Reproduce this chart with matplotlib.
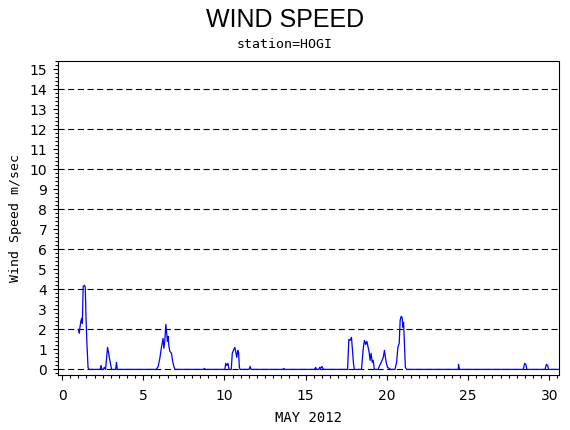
import numpy as np
import matplotlib
matplotlib.use("Agg")
import matplotlib.pyplot as plt
from matplotlib.ticker import MultipleLocator

# hourly wind speed, May 2012, station HOGI
days = [1.00, 1.06, 1.10, 1.16, 1.21, 1.25, 1.30, 1.38, 1.43, 1.47, 1.53, 1.60, 1.65,
        2.35, 2.40, 2.45, 2.55, 2.60, 2.68, 2.72, 2.80, 2.86, 2.92, 2.98, 3.05,
        3.30, 3.35, 3.40,
        5.80, 5.92, 6.02, 6.12, 6.22, 6.27, 6.33, 6.39, 6.44, 6.49, 6.53, 6.58, 6.64, 6.74, 6.80, 6.88, 6.96,
        8.72, 8.76, 8.82,
        10.02, 10.08, 10.14, 10.22, 10.28, 10.42, 10.48, 10.55, 10.64, 10.70, 10.76, 10.82, 10.87, 10.92, 10.96,
        11.52, 11.58, 11.64,
        13.62, 13.65, 13.68,
        15.55, 15.62, 15.68, 15.80, 15.86, 15.92, 16.00, 16.06, 16.12,
        17.58, 17.66, 17.74, 17.82, 17.88, 17.95, 18.00,
        18.44, 18.54, 18.62, 18.70, 18.77, 18.85, 18.91, 18.97, 19.03, 19.10, 19.16, 19.22, 19.26,
        19.46, 19.56, 19.68, 19.78, 19.85, 19.91, 19.96, 20.04, 20.14, 20.22,
        20.50, 20.60, 20.68, 20.76, 20.82, 20.88, 20.94, 20.99, 21.03, 21.08, 21.14, 21.22,
        24.40, 24.41, 24.45, 24.47,
        28.40, 28.48, 28.56, 28.62,
        29.74, 29.82, 29.90, 29.96,
        30.90]
speed = [2.0, 1.8, 2.1, 2.4, 2.55, 2.3, 4.15, 4.2, 4.1, 2.7, 1.3, 0.1, 0.0,
         0.0, 0.2, 0.0, 0.0, 0.1, 0.0, 0.35, 1.1, 0.85, 0.55, 0.3, 0.0,
         0.0, 0.35, 0.0,
         0.0, 0.15, 0.55, 1.1, 1.55, 1.05, 1.45, 2.25, 1.85, 1.4, 1.65, 1.15, 0.9, 0.8, 0.45, 0.15, 0.0,
         0.0, 0.05, 0.0,
         0.0, 0.3, 0.2, 0.3, 0.0, 0.0, 0.8, 0.95, 1.1, 0.85, 0.6, 0.95, 0.85, 0.1, 0.0,
         0.0, 0.15, 0.0,
         0.0, 0.05, 0.0,
         0.0, 0.1, 0.0, 0.0, 0.1, 0.05, 0.15, 0.05, 0.0,
         0.0, 1.5, 1.45, 1.6, 0.95, 0.25, 0.0,
         0.0, 1.0, 1.45, 1.25, 1.4, 1.1, 0.85, 0.45, 0.8, 0.35, 0.45, 0.05, 0.0,
         0.0, 0.2, 0.4, 0.6, 0.95, 0.6, 0.35, 0.1, 0.05, 0.0,
         0.0, 0.35, 1.1, 1.3, 2.45, 2.65, 2.6, 2.1, 2.35, 1.3, 0.1, 0.0,
         0.0, 0.25, 0.1, 0.0,
         0.0, 0.3, 0.25, 0.0,
         0.0, 0.25, 0.2, 0.0,
         0.0]
grid_levels = [0, 2, 4, 6, 8, 10, 12, 14]

plt.rcParams['font.family'] = ['DejaVu Sans Mono']

fig = plt.figure(figsize=(5.7, 4.3), dpi=100)
ax = fig.add_axes([58 / 570, 1 - 375 / 430, 501 / 570, 314 / 430])

for g in grid_levels:
    ax.axhline(g, color="black", lw=0.8, dashes=(5.5, 3.2), zorder=1)
ax.plot(days, speed, color="#0000ff", lw=0.9, zorder=3)

ax.set_xlim(-0.25, 30.6)
ax.set_ylim(-0.28, 15.4)
ax.xaxis.set_major_locator(MultipleLocator(5))
ax.xaxis.set_minor_locator(MultipleLocator(0.5))
ax.yaxis.set_major_locator(MultipleLocator(1))
ax.yaxis.set_minor_locator(MultipleLocator(0.2))
ax.tick_params(which="major", length=3.8, width=0.8, labelsize=10, pad=4)
ax.tick_params(which="minor", length=2.2, width=0.8)
ax.tick_params(axis="x", which="major", pad=6)
for lab in ax.get_xticklabels() + ax.get_yticklabels():
    lab.set_family("DejaVu Sans")
for s in ax.spines.values():
    s.set_linewidth(0.8)

ax.set_xlabel("MAY 2012", fontsize=10, labelpad=6)
ax.set_ylabel("Wind Speed m/sec", fontsize=9.5, labelpad=5)

fig.text(0.5, 1 - 20 / 430, "WIND SPEED", ha="center", va="center",
         fontsize=18, family="Liberation Sans")
fig.text(0.5, 1 - 44 / 430, "station=HOGI", ha="center", va="center", fontsize=9.5)

fig.savefig("out.png", dpi=100)
